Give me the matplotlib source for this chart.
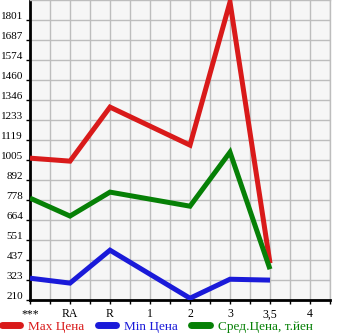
import numpy as np
import matplotlib
matplotlib.use('Agg')
import matplotlib.pyplot as plt
import matplotlib.transforms as mtransforms
from matplotlib.lines import Line2D

categories = ['***', 'RA', 'R', '1', '2', '3', '3,5', '4']
max_price = [1016, 999, 1306, None, 1090, 1903, 419]
min_price = [334, 306, 493, None, 220, 328, 323]
avg_price = [789, 687, 823, None, 743, 1050, 385]
ytick_labels = ['210', '323', '437', '551', '664', '778', '892', '1005',
                '1119', '1233', '1346', '1460', '1574', '1687', '1801']
legend_labels = ['Max Цена', 'Min Цена', 'Сред.Цена, т.йен']

red = '#d91a1a'
blue = '#1a1ad9'
green = '#068006'

fig = plt.figure(figsize=(3.45, 3.35), dpi=100)
ax = fig.add_axes([30 / 345, 35 / 335, 300 / 345, 300 / 335])
ax.set_facecolor('#f6f6f6')

def series(vals):
    xs = [i for i, v in enumerate(vals) if v is not None]
    ys = [v for v in vals if v is not None]
    return xs, ys

for vals, c in [(max_price, red), (min_price, blue), (avg_price, green)]:
    xs, ys = series(vals)
    ax.plot(xs, ys, color=c, linewidth=3.6, solid_joinstyle='miter',
            solid_capstyle='butt', zorder=3)

step = 113.64
y0 = 210
yticks = [y0 + i * step for i in range(len(ytick_labels))]
ax.set_ylim(y0, y0 + 15 * step)
ax.set_xlim(0, 7.5)
ax.set_yticks(yticks)
ax.set_yticklabels(ytick_labels)
ax.set_xticks(range(len(categories)))
ax.set_xticklabels(categories)
ax.set_xticks(np.arange(0.5, 7.6, 1.0), minor=True)

ax.grid(True, which='both', color='#bdbdbd', linewidth=1.0, zorder=1)
ax.set_axisbelow(True)

for s in ['left', 'bottom']:
    ax.spines[s].set_color('black')
    ax.spines[s].set_linewidth(2)
for s in ['right', 'top']:
    ax.spines[s].set_color('#bdbdbd')
    ax.spines[s].set_linewidth(1)

font = 'Liberation Serif'
ax.tick_params(axis='y', which='major', length=3, width=1, pad=2,
               labelsize=8, direction='out')
ax.tick_params(axis='x', which='both', length=3, width=1, pad=3,
               labelsize=8.5, direction='out')
for lab in ax.get_yticklabels():
    lab.set_fontfamily(font)
    lab.set_verticalalignment('bottom')
    lab.set_transform(lab.get_transform() +
                      mtransforms.ScaledTranslation(0, -1 / 100, fig.dpi_scale_trans))
for lab in ax.get_xticklabels():
    lab.set_fontfamily(font)

handles = [Line2D([0], [0], color=c, linewidth=5, solid_capstyle='round')
           for c in (red, blue, green)]
leg = fig.legend(handles, legend_labels, loc='lower left',
                 bbox_to_anchor=(0.0, 0.0), ncol=3, frameon=False,
                 borderpad=0.15, borderaxespad=0.0,
                 handlelength=1.4, handletextpad=0.6, columnspacing=1.0,
                 prop={'family': font, 'size': 9.5})
for t, c in zip(leg.get_texts(), (red, blue, green)):
    t.set_color(c)

fig.savefig('out.png', dpi=100)
